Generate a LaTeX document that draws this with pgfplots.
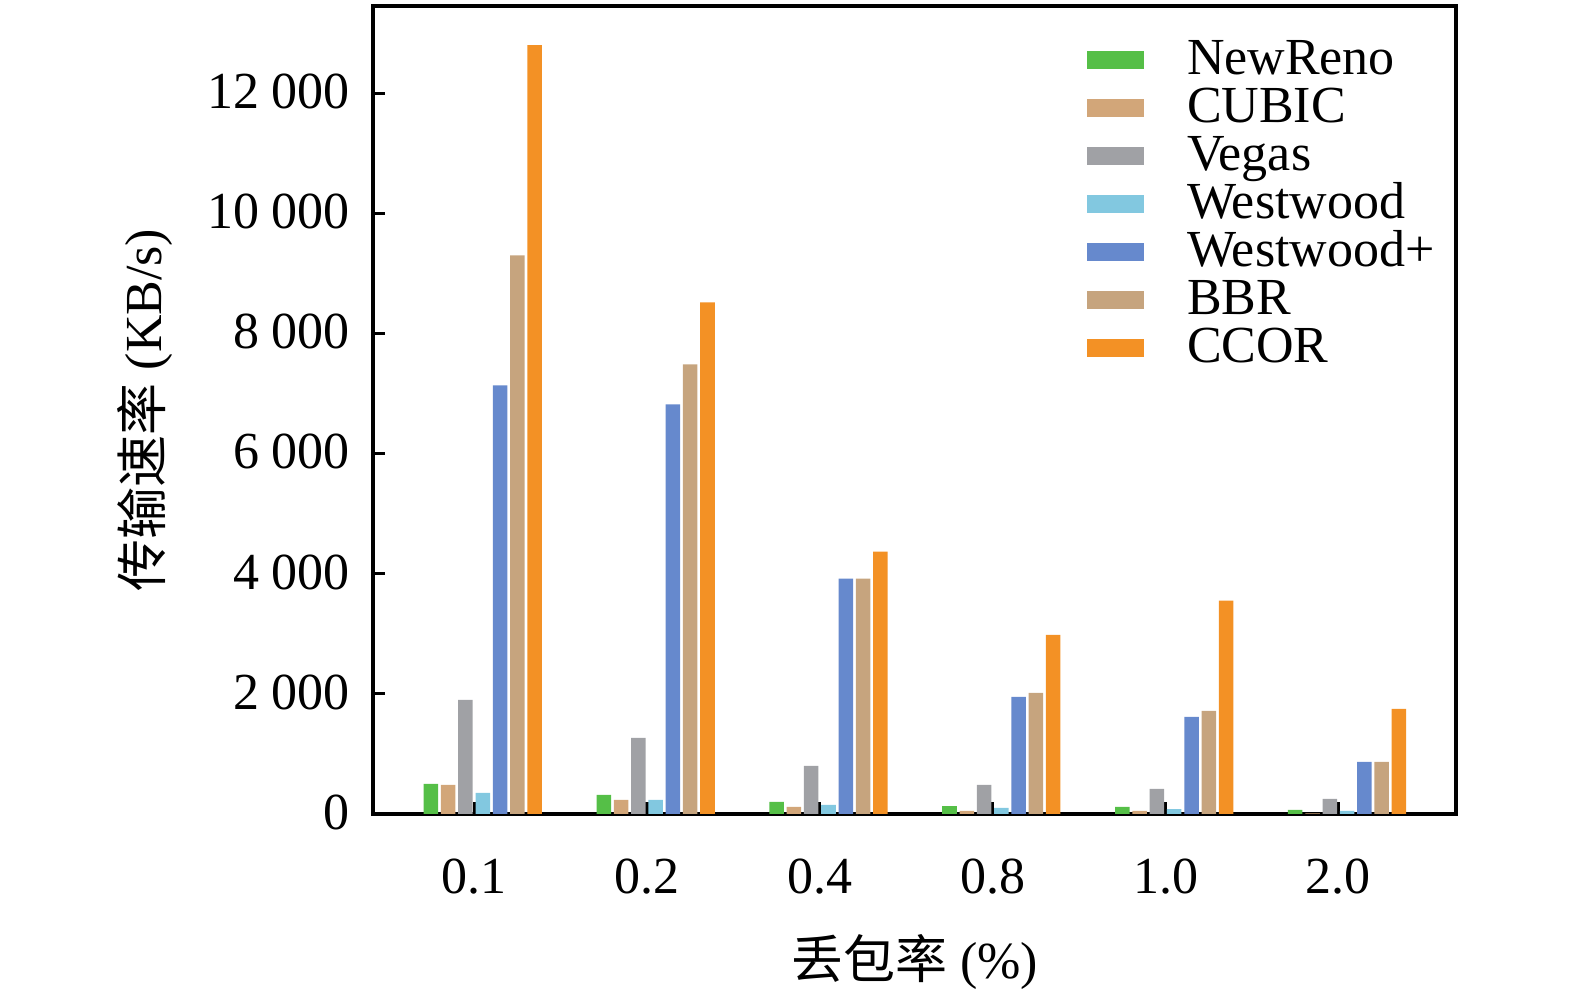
\documentclass[border=0pt]{standalone}
\usepackage{pgfplots}
\pgfplotsset{compat=1.18}
\usepackage{fontspec}
\setmainfont{Liberation Serif}
\newfontfamily\cjk{Noto Sans CJK SC}
\definecolor{cNR}{HTML}{55BF47}
\definecolor{cCU}{HTML}{D2A679}
\definecolor{cVE}{HTML}{A0A1A5}
\definecolor{cWW}{HTML}{82C8E0}
\definecolor{cWP}{HTML}{6689CD}
\definecolor{cBB}{HTML}{C6A47E}
\definecolor{cCC}{HTML}{F39125}
\begin{document}
\begin{tikzpicture}
\useasboundingbox (-93.25pt,-45.25pt) rectangle (300.5pt,203.5pt);
\begin{axis}[
  at={(0,0)}, anchor=south west,
  scale only axis, width=270.75pt, height=202pt,
  ybar, bar width=0.084,
  xmin=-0.585, xmax=5.68, ymin=0, ymax=13450,
  xtick={0,1,2,3,4,5},
  xticklabels={0.1,0.2,0.4,0.8,1.0,2.0},
  ytick={0,2000,4000,6000,8000,10000,12000},
  xtick pos=bottom, ytick pos=left, tick align=inside,
  major tick length=3pt,
  every tick/.style={black, line width=0.8pt},
  axis line style={line width=0.8pt},
  /pgf/number format/assume math mode=true,
  /pgf/number format/1000 sep={\hspace{0.22em}},
  scaled y ticks=false,
  tick label style={font=\fontsize{13}{15}\selectfont},
  yticklabel style={xshift=-2.4pt, yshift=0.4pt},
  xticklabel style={yshift=-7.75pt},
  xlabel={{\cjk 丢包率} (\%)},
  ylabel={{\cjk 传输速率} (KB/s)},
  label style={font=\fontsize{13}{15}\selectfont, inner sep=0pt},
  xlabel style={at={(axis description cs:0.5,-0.183)}, anchor=center},
  ylabel style={at={(axis description cs:-0.2105,0.5)}, anchor=center},
  legend cell align=left,
  legend style={draw=none, fill=none, inner sep=0pt, outer sep=0pt, row sep=0pt,
    at={(rel axis cs:0.6593,0.9592)}, anchor=north west,
    font=\fontsize{13}{15}\selectfont,
    nodes={inner sep=0pt, text height=9pt, text depth=3pt},
    column sep=10.75pt},
  legend image code/.code={\fill[#1, draw=none] (0pt,-1.4pt) rectangle (14.25pt,3.1pt);},
]
\addplot[fill=cNR, draw=none, bar shift=-0.25] coordinates {(0,500) (1,317) (2,200) (3,133) (4,117) (5,67)};
\addplot[fill=cCU, draw=none, bar shift=-0.15] coordinates {(0,483) (1,233) (2,117) (3,50) (4,50) (5,10)};
\addplot[fill=cVE, draw=none, bar shift=-0.05] coordinates {(0,1900) (1,1267) (2,800) (3,483) (4,417) (5,250)};
\addplot[fill=cWW, draw=none, bar shift=0.05] coordinates {(0,350) (1,233) (2,150) (3,100) (4,83) (5,50)};
\addplot[fill=cWP, draw=none, bar shift=0.15] coordinates {(0,7133) (1,6817) (2,3917) (3,1950) (4,1617) (5,867)};
\addplot[fill=cBB, draw=none, bar shift=0.25] coordinates {(0,9300) (1,7483) (2,3917) (3,2017) (4,1717) (5,867)};
\addplot[fill=cCC, draw=none, bar shift=0.35] coordinates {(0,12800) (1,8517) (2,4367) (3,2983) (4,3550) (5,1750)};
\legend{NewReno,CUBIC,Vegas,Westwood,Westwood+,BBR,CCOR}
\end{axis}
\end{tikzpicture}
\end{document}
